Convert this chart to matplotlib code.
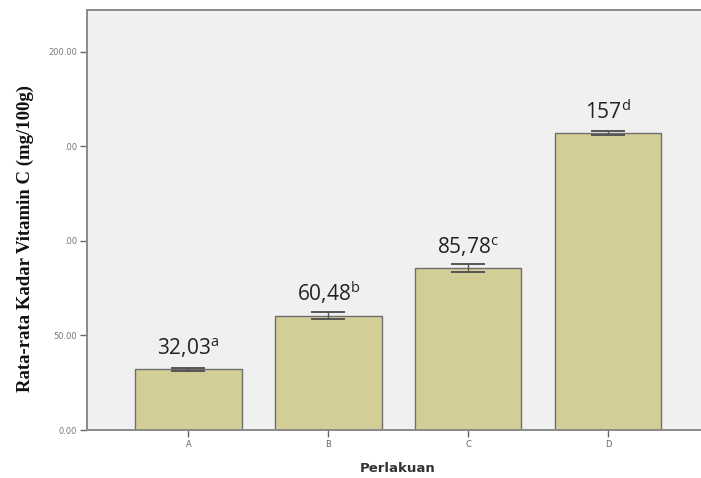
import matplotlib.pyplot as plt

# treatments and mean vitamin C content (mg/100g)
perlakuan = ["A", "B", "C", "D"]
rata_rata = [32.03, 60.48, 85.78, 157.0]
galat = [0.7, 1.75, 2.2, 0.9]
notasi = ["a", "b", "c", "d"]
label_angka = ["32,03", "60,48", "85,78", "157"]
y_ticks = [0, 50, 100, 150, 200]
y_ticklabels = ["0.00", "50.00", ".00", ".00", "200.00"]

fig = plt.figure(figsize=(7.01, 4.78), dpi=100)
ax = fig.add_axes([87 / 701, 48 / 478, 622 / 701, 420 / 478])
ax.set_facecolor("#f0f0f0")

x = range(len(perlakuan))
ax.bar(x, rata_rata, width=0.76, color="#d3ce97", edgecolor="#6e6e6e", linewidth=1.0, zorder=2)
ax.errorbar(x, rata_rata, yerr=galat, fmt="none", ecolor="#555555", elinewidth=1.0,
            capsize=12.5, capthick=1.4, zorder=3)

for i, v in enumerate(rata_rata):
    ax.text(i, v + 7.5, label_angka[i] + r"$^{\mathregular{" + notasi[i] + "}}$",
            ha="center", va="baseline", fontsize=15, family="Open Sans",
            color="#222222", zorder=4)

ax.set_xlim(-0.725, 3.72)
ax.set_ylim(0, 222)
ax.set_xticks(list(x))
ax.set_xticklabels(perlakuan, fontsize=6, color="#666666")
ax.set_yticks(y_ticks)
ax.set_yticklabels(y_ticklabels, fontsize=6, color="#777777")
ax.tick_params(axis="both", length=5, width=1, color="#666666", pad=2)

for s in ["left", "top", "bottom"]:
    ax.spines[s].set_color("#8a8a8a")
    ax.spines[s].set_linewidth(1.4)
ax.spines["right"].set_visible(False)

fig.text(398 / 701, 1 - 468 / 478, "Perlakuan", ha="center", va="center",
         fontsize=9.5, fontweight="bold", color="#333333")
fig.text(25 / 701, 1 - 238 / 478, "Rata-rata Kadar Vitamin C (mg/100g)", rotation=90,
         ha="center", va="center", fontsize=13.5, fontweight="bold",
         family="Liberation Serif", color="#111111")

fig.savefig("out.png", dpi=100)
